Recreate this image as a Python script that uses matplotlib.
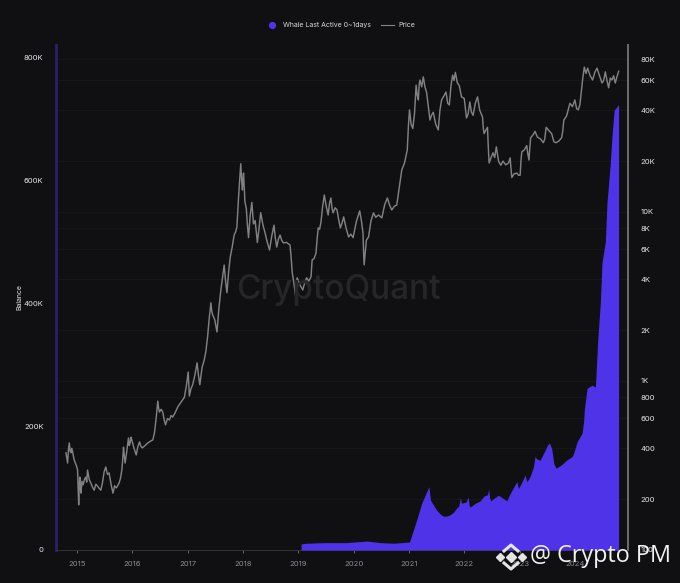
import matplotlib
matplotlib.use('Agg')
import matplotlib.pyplot as plt
from matplotlib.lines import Line2D
from matplotlib.ticker import FixedLocator, FixedFormatter, NullLocator

plt.rcParams['font.family'] = ['Inter', 'DejaVu Sans']

BG = '#101012'
PURPLE = '#4f33e8'
LOGO = '#e4e4e4'

# (year, usd)
price_points = [
    (2014.80, 376), (2014.815, 350), (2014.83, 327), (2014.845, 395), (2014.86, 430), (2014.875, 385), (2014.89, 376),
    (2014.905, 400), (2014.92, 381), (2014.945, 345), (2014.97, 327), (2014.99, 315), (2015.01, 297), (2015.02, 230),
    (2015.03, 185), (2015.04, 240), (2015.05, 270), (2015.06, 235), (2015.07, 217), (2015.09, 255), (2015.11, 243),
    (2015.135, 262), (2015.16, 270), (2015.175, 252), (2015.19, 297), (2015.22, 262), (2015.25, 249), (2015.28, 235),
    (2015.31, 226), (2015.34, 245), (2015.37, 239), (2015.40, 232), (2015.43, 226), (2015.46, 250), (2015.49, 290),
    (2015.52, 310), (2015.55, 280), (2015.58, 286), (2015.615, 245), (2015.65, 217), (2015.68, 240), (2015.71, 233),
    (2015.735, 240), (2015.76, 249), (2015.785, 265), (2015.81, 297), (2015.825, 340), (2015.84, 406), (2015.855, 360),
    (2015.87, 327), (2015.90, 385), (2015.93, 460), (2015.945, 415), (2015.96, 430), (2015.975, 465), (2015.99, 448),
    (2016.03, 400), (2016.07, 365), (2016.10, 410), (2016.13, 436), (2016.155, 410), (2016.18, 402), (2016.23, 415),
    (2016.28, 430), (2016.325, 440), (2016.37, 448), (2016.385, 470), (2016.40, 493), (2016.43, 600), (2016.46, 760),
    (2016.475, 690), (2016.49, 655), (2016.52, 680), (2016.55, 655), (2016.575, 590), (2016.60, 550), (2016.635, 600),
    (2016.67, 588), (2016.70, 625), (2016.73, 612), (2016.775, 650), (2016.82, 702), (2016.88, 750), (2016.94, 800),
    (2016.975, 930), (2017.01, 1130), (2017.02, 960), (2017.03, 815), (2017.06, 900), (2017.09, 950), (2017.13, 1080),
    (2017.17, 1280), (2017.195, 1080), (2017.22, 950), (2017.26, 1200), (2017.30, 1332), (2017.33, 1500), (2017.36, 1825),
    (2017.39, 2350), (2017.42, 2900), (2017.435, 2600), (2017.45, 2475), (2017.49, 2300), (2017.53, 1950), (2017.565, 2700),
    (2017.60, 3457), (2017.63, 4100), (2017.66, 4850), (2017.685, 3900), (2017.71, 3330), (2017.74, 4400), (2017.77, 5420),
    (2017.805, 6200), (2017.84, 7310), (2017.865, 7600), (2017.89, 8150), (2017.925, 13000), (2017.96, 19300),
    (2017.975, 15500), (2017.99, 13500), (2018.00, 15800), (2018.01, 17000), (2018.035, 11500), (2018.06, 10500),
    (2018.08, 8400), (2018.10, 7050), (2018.13, 9500), (2018.16, 11400), (2018.19, 8500), (2018.22, 8900), (2018.26, 6600),
    (2018.29, 8000), (2018.32, 9900), (2018.36, 8400), (2018.40, 7500), (2018.44, 6600), (2018.48, 5960), (2018.52, 7200),
    (2018.56, 8350), (2018.585, 7000), (2018.61, 6200), (2018.64, 6900), (2018.67, 7300), (2018.70, 6800), (2018.73, 6570),
    (2018.79, 6600), (2018.85, 6380), (2018.87, 5400), (2018.89, 4400), (2018.92, 3800), (2018.95, 3220), (2018.965, 3700),
    (2018.98, 4080), (2019.03, 3700), (2019.08, 3457), (2019.115, 3800), (2019.15, 4080), (2019.19, 3900), (2019.23, 4140),
    (2019.25, 5200), (2019.285, 5300), (2019.32, 5720), (2019.34, 6900), (2019.36, 8050), (2019.385, 7900), (2019.41, 8720),
    (2019.44, 10800), (2019.47, 12600), (2019.505, 10800), (2019.54, 9600), (2019.565, 11300), (2019.59, 12100),
    (2019.61, 10500), (2019.63, 9880), (2019.665, 10600), (2019.70, 10280), (2019.73, 9000), (2019.76, 8050), (2019.79, 8600),
    (2019.82, 9350), (2019.865, 8000), (2019.91, 7120), (2019.95, 7400), (2019.99, 7050), (2020.05, 8800), (2020.11, 10150),
    (2020.14, 8900), (2020.17, 7500), (2020.18, 5800), (2020.19, 4870), (2020.23, 6800), (2020.27, 7120), (2020.315, 8900),
    (2020.36, 9880), (2020.40, 9300), (2020.45, 9600), (2020.51, 9230), (2020.56, 11000), (2020.61, 12100), (2020.65, 11000),
    (2020.69, 10280), (2020.735, 10800), (2020.78, 11000), (2020.825, 14000), (2020.87, 17700), (2020.92, 19500),
    (2020.97, 23300), (2020.99, 32000), (2021.01, 40200), (2021.04, 33000), (2021.07, 31200), (2021.10, 38000),
    (2021.13, 56300), (2021.15, 49000), (2021.17, 46000), (2021.185, 57000), (2021.20, 60400), (2021.23, 55000),
    (2021.26, 63000), (2021.29, 55000), (2021.32, 50800), (2021.35, 42000), (2021.38, 35000), (2021.41, 37500),
    (2021.44, 38900), (2021.485, 33000), (2021.53, 30600), (2021.56, 40000), (2021.59, 46000), (2021.63, 48500),
    (2021.67, 51300), (2021.70, 44000), (2021.73, 43000), (2021.76, 56000), (2021.79, 64600), (2021.815, 60000),
    (2021.84, 67000), (2021.875, 58000), (2021.91, 56000), (2021.95, 48000), (2022.00, 47000), (2022.04, 36000),
    (2022.07, 38000), (2022.10, 44800), (2022.13, 39000), (2022.16, 37300), (2022.20, 44000), (2022.24, 48000),
    (2022.28, 40000), (2022.33, 36500), (2022.345, 31000), (2022.36, 29100), (2022.39, 30500), (2022.42, 31700),
    (2022.435, 24000), (2022.45, 19500), (2022.485, 21000), (2022.52, 22400), (2022.55, 21000), (2022.58, 24300),
    (2022.62, 20000), (2022.66, 18900), (2022.70, 20000), (2022.75, 19000), (2022.80, 19500), (2022.83, 20900),
    (2022.845, 18000), (2022.86, 16000), (2022.90, 16800), (2022.95, 17000), (2022.98, 16500), (2023.01, 16500),
    (2023.025, 20000), (2023.04, 22700), (2023.085, 23300), (2023.13, 24700), (2023.15, 22000), (2023.17, 20300),
    (2023.185, 24000), (2023.20, 27500), (2023.24, 28500), (2023.28, 30000), (2023.32, 27800), (2023.38, 27000),
    (2023.43, 25700), (2023.455, 27000), (2023.48, 31700), (2023.53, 30300), (2023.58, 29100), (2023.62, 26000),
    (2023.66, 25700), (2023.71, 26300), (2023.76, 27500), (2023.78, 30000), (2023.80, 35000), (2023.85, 37000),
    (2023.91, 44000), (2023.955, 42000), (2024.00, 46000), (2024.03, 41000), (2024.06, 40200), (2024.09, 43000),
    (2024.12, 52700), (2024.145, 63000), (2024.17, 72000), (2024.20, 66000), (2024.23, 71000), (2024.275, 64000),
    (2024.32, 60400), (2024.36, 67000), (2024.40, 71000), (2024.445, 64000), (2024.49, 58000), (2024.52, 60000),
    (2024.55, 67500), (2024.58, 60000), (2024.61, 54300), (2024.64, 62000), (2024.67, 60400), (2024.70, 64000),
    (2024.73, 58000), (2024.76, 63000), (2024.79, 68000),
]

# (year, thousand BTC)
balance_points = [
    (2019.05, 9.8), (2019.15, 11), (2019.49, 12), (2019.88, 12), (2020.24, 14.6), (2020.48, 12), (2020.72, 11),
    (2021.01, 13), (2021.05, 24), (2021.14, 49), (2021.23, 76), (2021.36, 103), (2021.39, 81), (2021.50, 65),
    (2021.56, 59), (2021.62, 55), (2021.68, 55), (2021.74, 57), (2021.80, 61), (2021.87, 69), (2021.90, 71),
    (2021.93, 85), (2021.95, 76), (2022.03, 78), (2022.07, 86), (2022.09, 72), (2022.11, 70), (2022.20, 76),
    (2022.29, 80), (2022.36, 88), (2022.42, 90), (2022.44, 99), (2022.46, 84), (2022.48, 80), (2022.55, 85),
    (2022.62, 89), (2022.70, 84), (2022.77, 80), (2022.82, 90), (2022.88, 100), (2022.95, 111), (2022.98, 100),
    (2023.04, 110), (2023.10, 122), (2023.13, 111), (2023.17, 116), (2023.20, 122), (2023.25, 135), (2023.28, 152),
    (2023.31, 148), (2023.37, 146), (2023.45, 160), (2023.50, 170), (2023.54, 174), (2023.58, 165), (2023.62, 140),
    (2023.66, 133), (2023.75, 138), (2023.85, 146), (2023.95, 152), (2023.98, 158), (2024.04, 176), (2024.13, 190),
    (2024.16, 211), (2024.17, 228), (2024.22, 263), (2024.31, 268), (2024.37, 265), (2024.38, 281), (2024.41, 337),
    (2024.46, 402), (2024.49, 467), (2024.55, 501), (2024.58, 564), (2024.64, 629), (2024.67, 672), (2024.71, 715),
    (2024.79, 724),
]

year_ticks = [2015, 2016, 2017, 2018, 2019, 2020, 2021, 2022, 2023, 2024]
balance_ticks = [0, 200, 400, 600, 800]
balance_labels = ['0', '200K', '400K', '600K', '800K']
price_ticks = [100, 200, 400, 600, 800, 1000, 2000, 4000, 6000, 8000, 10000, 20000, 40000, 60000, 80000]
price_labels = ['100', '200', '400', '600', '800', '1K', '2K', '4K', '6K', '8K', '10K', '20K', '40K', '60K', '80K']

price_years, price = zip(*price_points)
balance_years, balance = zip(*balance_points)

fig = plt.figure(figsize=(6.8, 5.83), dpi=100, facecolor=BG)
ax = fig.add_axes([56 / 680, 33 / 583, 572 / 680, 505 / 583])

ax.fill_between(balance_years, balance, 0, color=PURPLE, lw=0, zorder=3)
ax.set_xlim(2014.62, 2024.96)
ax.set_ylim(0, 821)
ax.set_xticks(year_ticks)
ax.set_xticklabels([str(y) for y in year_ticks])
ax.set_yticks(balance_ticks)
ax.set_yticklabels(balance_labels)
ax.tick_params(axis='x', colors='#8c8c8c', labelsize=5.5, length=2, width=0.5, pad=6)
ax.tick_params(axis='y', colors='#e6e6e6', labelsize=5.5, length=0, pad=9)
ax.set_ylabel('Balance', color='#e6e6e6', fontsize=5)
ax.yaxis.set_label_coords(-34 / 572, 0.5)

for side in ['top', 'right']:
    ax.spines[side].set_visible(False)
ax.spines['left'].set_color('#2a1f70')
ax.spines['left'].set_linewidth(2)
ax.spines['bottom'].set_color('#3a3a3c')
ax.spines['bottom'].set_linewidth(0.6)
ax.spines['bottom'].set_linestyle((0, (2, 1)))

ax2 = ax.twinx()
ax2.set_yscale('log')
ax2.set_ylim(100, 97300)
ax2.yaxis.set_major_locator(FixedLocator(price_ticks))
ax2.yaxis.set_major_formatter(FixedFormatter(price_labels))
ax2.yaxis.set_minor_locator(NullLocator())
ax2.tick_params(axis='y', which='major', colors='#e6e6e6', labelsize=5.5, length=0, pad=9)
ax2.grid(True, axis='y', color='#18181b', lw=0.7)
ax2.plot(price_years, price, color='#808085', lw=1.05, zorder=4)
for side in ['top', 'left', 'bottom']:
    ax2.spines[side].set_visible(False)
ax2.spines['right'].set_color('#6e6e72')
ax2.spines['right'].set_linewidth(1.4)

# price axes goes behind so the grid stays under the purple area
ax2.set_zorder(1)
ax.set_zorder(2)
ax.patch.set_visible(False)
ax2.patch.set_visible(True)
ax2.patch.set_facecolor(BG)

# watermark sits under the lines
wm = fig.text(338 / 680, 1 - 290 / 583, 'CryptoQuant', color='#262629', fontsize=24, fontweight='medium',
              ha='center', va='center')
wm.set_zorder(1.5)

# legend row
fig.add_artist(Line2D([272 / 680], [1 - 25 / 583], marker='o', ms=4.2, color=PURPLE, lw=0))
fig.text(283 / 680, 1 - 25 / 583, 'Whale Last Active 0~1days', color='#d8d8d8', fontsize=5, va='center')
fig.add_artist(Line2D([381 / 680, 394 / 680], [1 - 25 / 583] * 2, color='#85858a', lw=0.8))
fig.text(398 / 680, 1 - 25 / 583, 'Price', color='#d8d8d8', fontsize=5, va='center')

# binance style logo and tag, bottom right
for chevron in [[(504, 551), (511, 545), (518, 551)], [(504, 563), (511, 569), (518, 563)]]:
    fig.add_artist(Line2D([p[0] / 680 for p in chevron], [1 - p[1] / 583 for p in chevron], color=LOGO, lw=2.2, zorder=10))
for px, py, size in [(500, 557, 3.6), (522, 557, 3.6), (511, 557, 5)]:
    fig.add_artist(Line2D([px / 680], [1 - py / 583], marker='D', ms=size, color=LOGO, lw=0, zorder=10))
fig.text(530 / 680, 1 - 556 / 583, '@ Crypto PM', color='#f2f2f2', fontsize=16.8, va='center',
         family=['Open Sans', 'DejaVu Sans'], zorder=10)

fig.savefig('out.png', dpi=100, facecolor=BG)
